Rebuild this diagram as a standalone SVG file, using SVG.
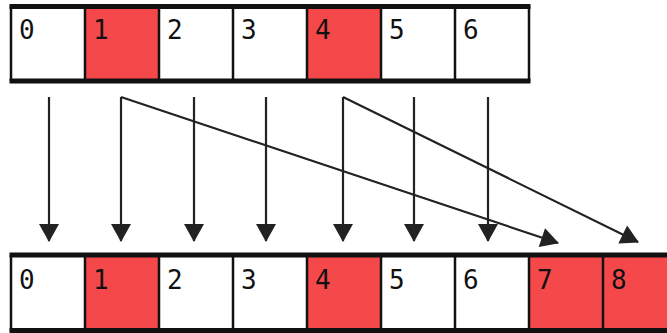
<svg xmlns="http://www.w3.org/2000/svg" width="667" height="333" viewBox="0 0 667 333">
<defs>
<style>
.c{fill:#ffffff}
.r{fill:#f5484b}
.d{stroke:#111;stroke-width:2.5;fill:none}
.h{stroke:#111;stroke-width:5;fill:none}
.t{font-family:"DejaVu Sans Mono",monospace;font-size:26px;fill:#111}
.a{stroke:#222;stroke-width:2.2;fill:none;marker-end:url(#ah)}
</style>
<marker id="ah" markerWidth="18" markerHeight="20" viewBox="0 0 18 20" refX="17" refY="10" markerUnits="userSpaceOnUse" orient="auto" overflow="visible">
<path d="M0,0 L18,10 L0,20 Z" fill="#222"/>
</marker>
</defs>
<g id="top-array">
<g id="top-0"><rect class="c" x="11" y="6" width="74" height="75"/><text class="t" x="19" y="39">0</text></g>
<g id="top-1"><rect class="r" x="85" y="6" width="74" height="75"/><text class="t" x="93" y="39">1</text></g>
<g id="top-2"><rect class="c" x="159" y="6" width="74" height="75"/><text class="t" x="167" y="39">2</text></g>
<g id="top-3"><rect class="c" x="233" y="6" width="74" height="75"/><text class="t" x="241" y="39">3</text></g>
<g id="top-4"><rect class="r" x="307" y="6" width="74" height="75"/><text class="t" x="315" y="39">4</text></g>
<g id="top-5"><rect class="c" x="381" y="6" width="74" height="75"/><text class="t" x="389" y="39">5</text></g>
<g id="top-6"><rect class="c" x="455" y="6" width="74" height="75"/><text class="t" x="463" y="39">6</text></g>
<path class="d" d="M11,6V81M85,6V81M159,6V81M233,6V81M307,6V81M381,6V81M455,6V81M529,6V81"/>
<path class="h" d="M9.5,6.5H530.5M9.5,81H530.5"/>
</g>
<g id="bottom-array">
<g id="bot-0"><rect class="c" x="11" y="255" width="74" height="76"/><text class="t" x="19" y="289">0</text></g>
<g id="bot-1"><rect class="r" x="85" y="255" width="74" height="76"/><text class="t" x="93" y="289">1</text></g>
<g id="bot-2"><rect class="c" x="159" y="255" width="74" height="76"/><text class="t" x="167" y="289">2</text></g>
<g id="bot-3"><rect class="c" x="233" y="255" width="74" height="76"/><text class="t" x="241" y="289">3</text></g>
<g id="bot-4"><rect class="r" x="307" y="255" width="74" height="76"/><text class="t" x="315" y="289">4</text></g>
<g id="bot-5"><rect class="c" x="381" y="255" width="74" height="76"/><text class="t" x="389" y="289">5</text></g>
<g id="bot-6"><rect class="c" x="455" y="255" width="74" height="76"/><text class="t" x="463" y="289">6</text></g>
<g id="bot-7"><rect class="r" x="529" y="255" width="74" height="76"/><text class="t" x="537" y="289">7</text></g>
<g id="bot-8"><rect class="r" x="603" y="255" width="74" height="76"/><text class="t" x="611" y="289">8</text></g>
<path class="d" d="M11,255V331M85,255V331M159,255V331M233,255V331M307,255V331M381,255V331M455,255V331M529,255V331M603,255V331"/>
<path class="h" d="M9.5,255H668M9.5,330.5H668"/>
</g>
<g id="connectors">
<path class="a" d="M49,97V241"/>
<path class="a" d="M121,97V241"/>
<path class="a" d="M194,97V241"/>
<path class="a" d="M266,97V241"/>
<path class="a" d="M343,97V241"/>
<path class="a" d="M414,97V241"/>
<path class="a" d="M488,97V241"/>
<path class="a" d="M121,97L558,243"/>
<path class="a" d="M343,97L638,242"/>
</g>
</svg>
